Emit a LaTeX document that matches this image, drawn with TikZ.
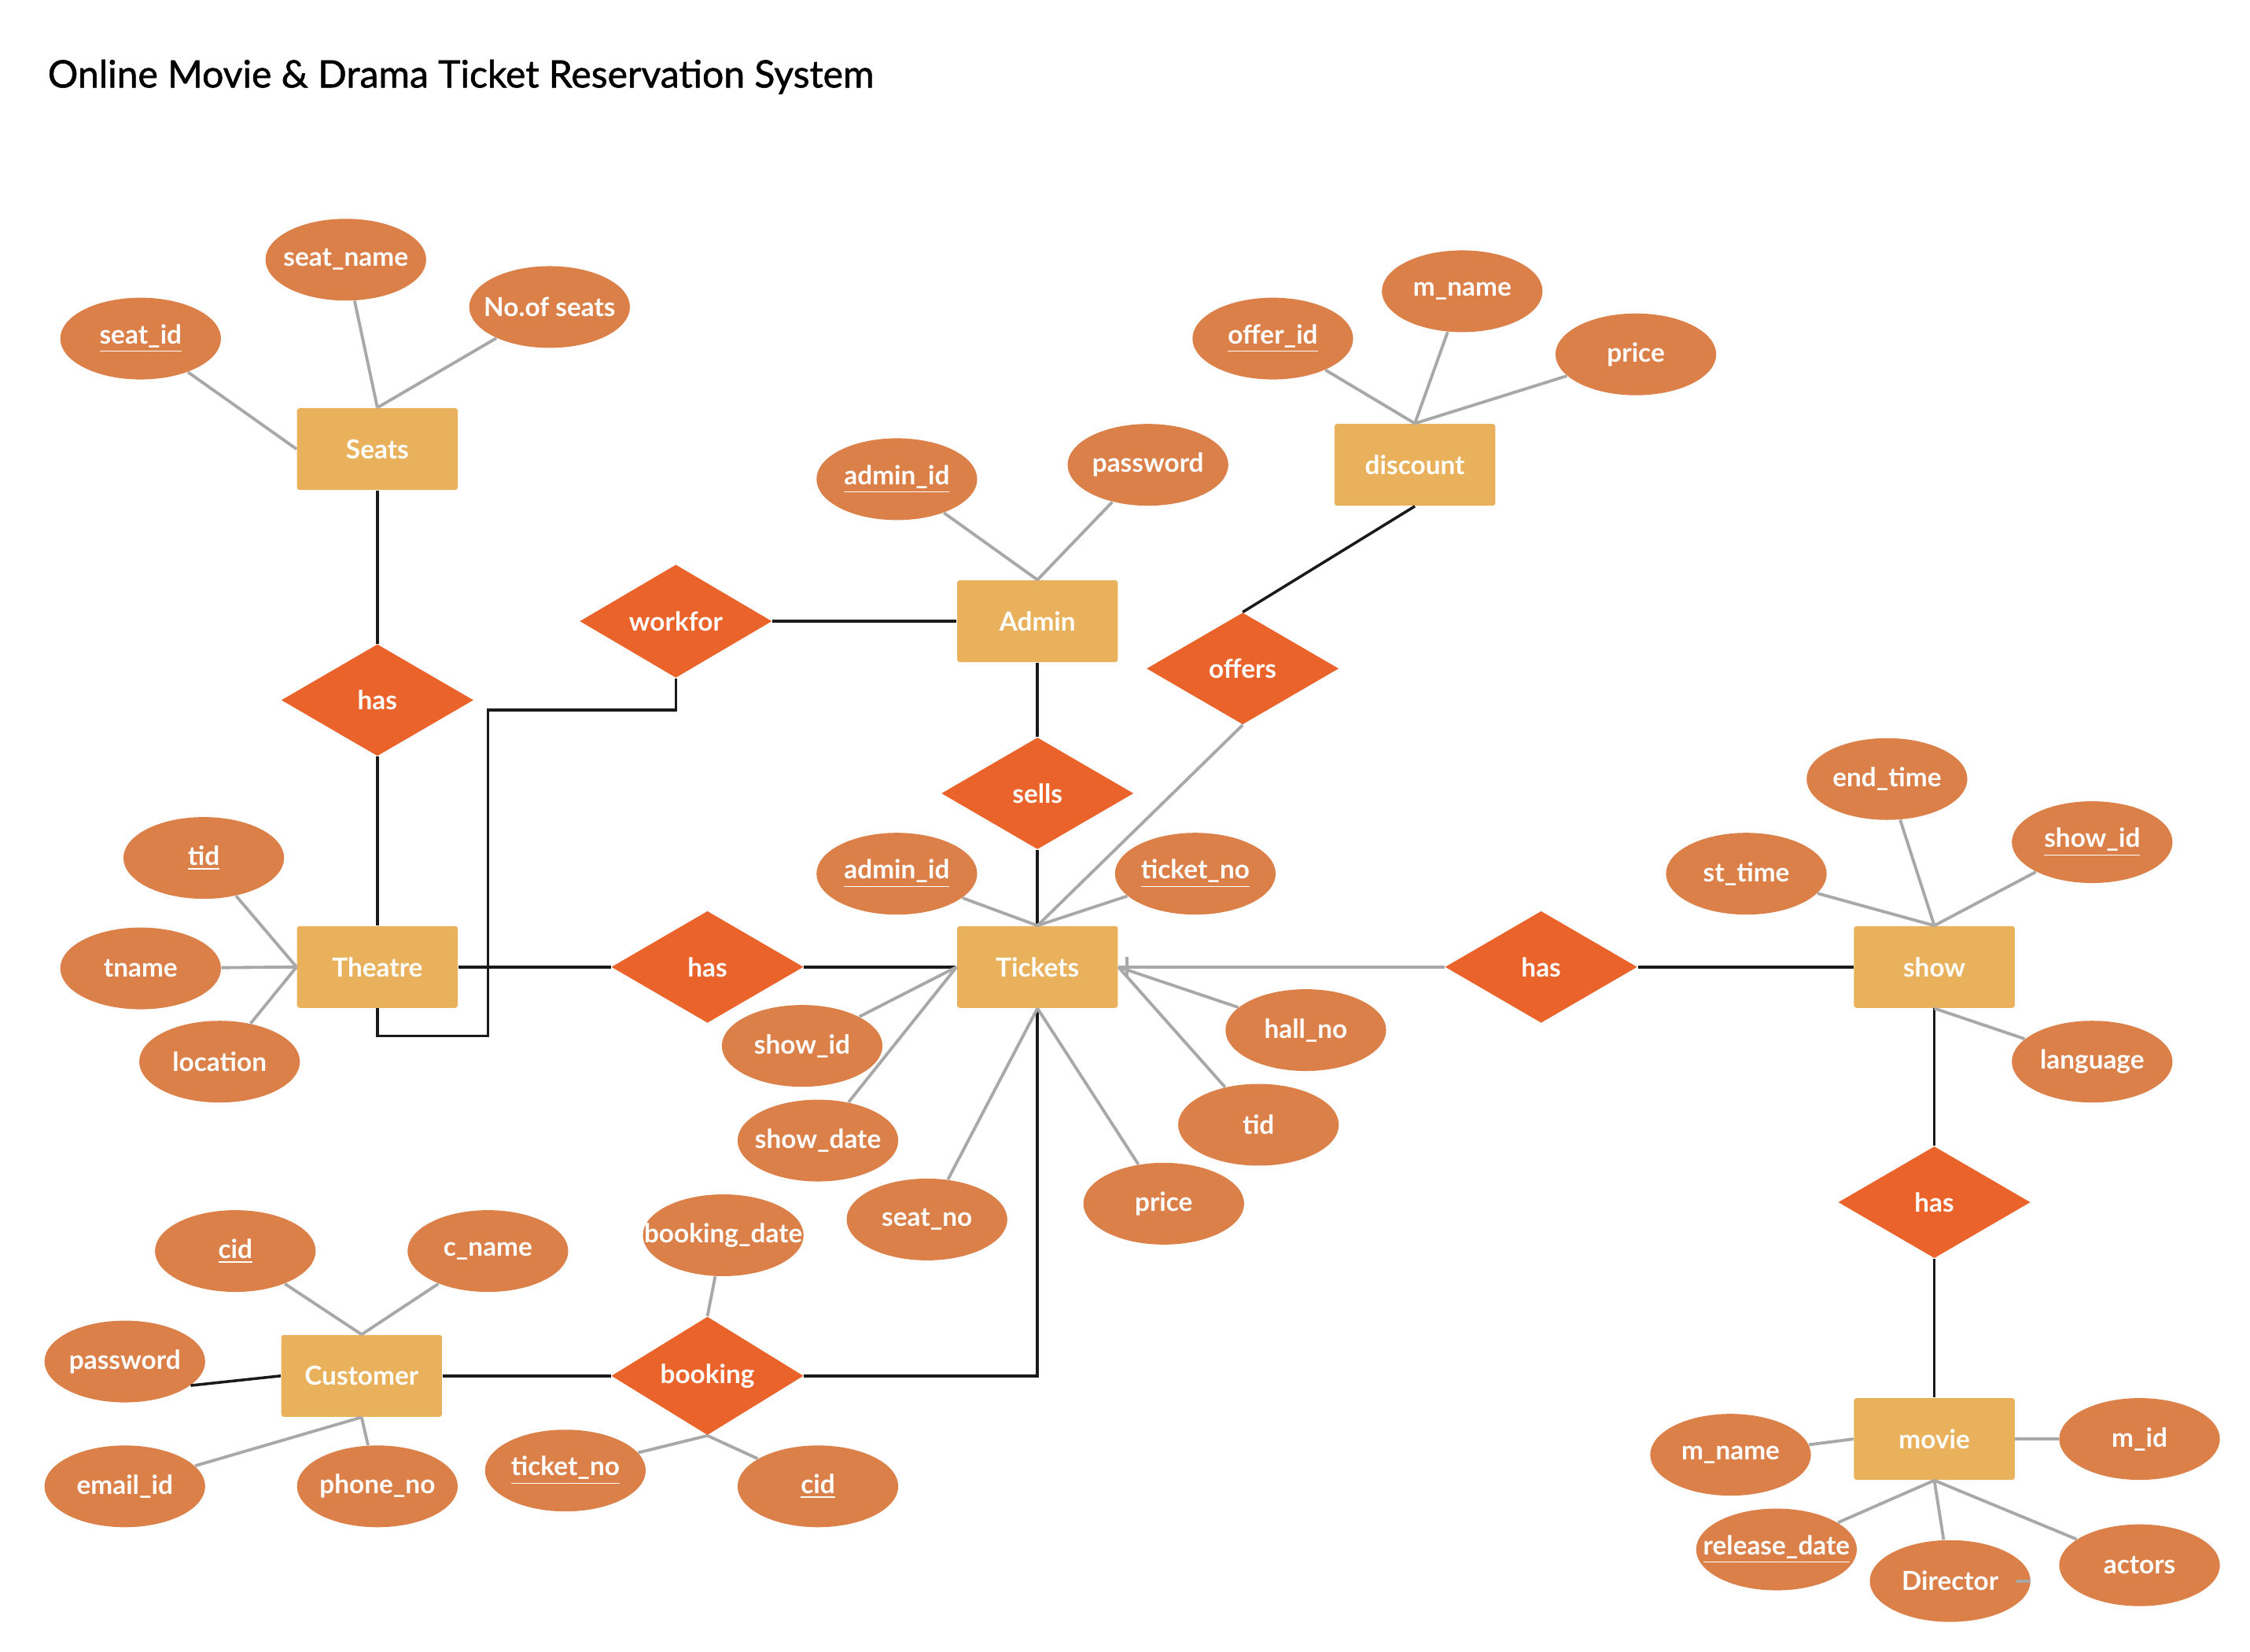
\documentclass[tikz,border=0pt]{standalone}
\usepackage{fontspec}
\setmainfont{Lato}
\newfontfamily\titlefont{Lato}[FakeBold=1.2]
\usetikzlibrary{shapes.geometric}

\begin{document}
\begin{tikzpicture}[x=0.02cm, y=-0.02cm,
    entity/.style={rectangle, fill=entityColour, rounded corners=1pt, minimum width=2.24cm, minimum height=1.14cm, inner sep=0pt, text=white, font=\fontsize{10.4}{12}\selectfont\bfseries},
    relation/.style={diamond, fill=relationColour, minimum width=2.68cm, minimum height=1.56cm, inner sep=0pt, text=white, font=\fontsize{10.4}{12}\selectfont\bfseries},
    attribute/.style={ellipse, fill=attributeColour, minimum width=2.24cm, minimum height=1.14cm, inner sep=0pt, text=white, font=\fontsize{10.4}{12}\selectfont\bfseries,
        execute at begin node={\hbox to 0pt\bgroup\hss}, execute at end node={\hss\egroup}},
    attrline/.style={draw=lineGrey, line width=1.2pt},
    relline/.style={draw=lineBlack, line width=1.1pt}]
    \definecolor{entityColour}{HTML}{E9B15C}
    \definecolor{relationColour}{HTML}{E9632A}
    \definecolor{attributeColour}{HTML}{DC804A}
    \definecolor{lineGrey}{HTML}{A8A8A8}
    \definecolor{lineBlack}{HTML}{1A1A1A}
    \def\key#1{\underline{#1}}

    \useasboundingbox (0,0) rectangle (1568,1151);

    % Title
    \node[anchor=base west, inner sep=0pt, font=\titlefont\fontsize{15}{18}\selectfont] (title) at (33,61) {Online Movie \& Drama Ticket Reservation System};

    % Entities
    \node[entity] (seats) at (263,313) {Seats};
    \node[entity] (admin) at (723,433) {Admin};
    \node[entity] (discount) at (986,324) {discount};
    \node[entity] (theatre) at (263,674) {Theatre};
    \node[entity] (tickets) at (723,674) {Tickets};
    \node[entity] (show) at (1348,674) {show};
    \node[entity] (customer) at (252,959) {Customer};
    \node[entity] (movie) at (1348,1003) {movie};

    % Relationships
    \node[relation] (hasSeat) at (263,488) {has};
    \node[relation] (workfor) at (471,433) {workfor};
    \node[relation] (offers) at (866,466) {offers};
    \node[relation] (sells) at (723,553) {sells};
    \node[relation] (hasTicket) at (493,674) {has};
    \node[relation] (hasShow) at (1074,674) {has};
    \node[relation] (hasMovie) at (1348,838) {has};
    \node[relation] (booking) at (493,959) {booking};

    % Attributes
    \node[attribute] (seatId) at (98,236) {\key{seat\_id}};
    \node[attribute] (seatName) at (241,181) {seat\_name};
    \node[attribute] (noSeats) at (383,214) {No.of seats};
    \node[attribute] (adminId) at (625,334) {\key{admin\_id}};
    \node[attribute] (adminPwd) at (800,324) {password};
    \node[attribute] (offerId) at (887,236) {\key{offer\_id}};
    \node[attribute] (discName) at (1019,203) {m\_name};
    \node[attribute] (discPrice) at (1140,247) {price};
    \node[attribute] (theatreTid) at (142,598) {\key{tid}};
    \node[attribute] (tname) at (98,675) {tname};
    \node[attribute] (location) at (153,740) {location};
    \node[attribute] (tAdminId) at (625,609) {\key{admin\_id}};
    \node[attribute] (ticketNo) at (833,609) {\key{ticket\_no}};
    \node[attribute] (tShowId) at (559,729) {show\_id};
    \node[attribute] (showDate) at (570,795) {show\_date};
    \node[attribute] (seatNo) at (646,850) {seat\_no};
    \node[attribute] (tPrice) at (811,839) {price};
    \node[attribute] (tTid) at (877,784) {tid};
    \node[attribute] (hallNo) at (910,718) {hall\_no};
    \node[attribute] (endTime) at (1315,543) {end\_time};
    \node[attribute] (showId) at (1458,587) {\key{show\_id}};
    \node[attribute] (stTime) at (1217,609) {st\_time};
    \node[attribute] (language) at (1458,740) {language};
    \node[attribute] (cid) at (164,872) {\key{cid}};
    \node[attribute] (cName) at (340,872) {c\_name};
    \node[attribute] (cPwd) at (87,949) {password};
    \node[attribute] (email) at (87,1036) {email\_id};
    \node[attribute] (phone) at (263,1036) {phone\_no};
    \node[attribute] (bookDate) at (504,861) {booking\_date};
    \node[attribute] (bTicketNo) at (394,1025) {\key{ticket\_no}};
    \node[attribute] (bCid) at (570,1036) {\key{cid}};
    \node[attribute] (mName) at (1206,1014) {m\_name};
    \node[attribute] (mId) at (1491,1003) {m\_id};
    \node[attribute] (releaseDate) at (1238,1080) {\key{release\_date}};
    \node[attribute] (director) at (1359,1102) {Director};
    \node[attribute] (actors) at (1491,1091) {actors};

    % Relationship lines
    \draw[relline] (seats) -- (hasSeat) -- (theatre);
    \draw[relline] (workfor) -- (admin);
    \draw[relline] (workfor.south) -- ++(0,22) -| (340,722) -| (theatre.south);
    \draw[relline] (admin) -- (sells) -- (tickets);
    \draw[relline] (discount.south) -- (offers.north);
    \draw[relline] (theatre) -- (hasTicket) -- (tickets);
    \draw[relline] (hasShow) -- (show);
    \draw[relline] (show) -- (hasMovie) -- (movie);
    \draw[relline] (customer) -- (booking);
    \draw[relline] (booking.east) -| (tickets.south);
    \draw[relline] (cPwd.-20) -- (customer.west);
    \draw[attrline] (offers.south) -- (tickets.north);
    \draw[attrline] (hasShow.west) -- (tickets.east);
    \draw[attrline] ([xshift=0.12cm]tickets.east) ++(0,-7) -- ++(0,14);

    % Attribute lines
    \foreach \a/\b in {seatId/seats.west, seatName/seats.north, noSeats/seats.north,
        adminId/admin.north, adminPwd/admin.north,
        offerId/discount.north, discName/discount.north, discPrice/discount.north,
        theatreTid/theatre.west, tname/theatre.west, location/theatre.west,
        tAdminId/tickets.north, ticketNo/tickets.north, tShowId/tickets.west, showDate/tickets.west,
        seatNo/tickets.south, tPrice/tickets.south, tTid/tickets.east, hallNo/tickets.east,
        endTime/show.north, showId/show.north, stTime/show.north, language/show.south,
        cid/customer.north, cName/customer.north, email/customer.south, phone/customer.south,
        bookDate/booking.north, bTicketNo/booking.south, bCid/booking.south,
        mName/movie.west, mId/movie.east, releaseDate/movie.south, director/movie.south, actors/movie.south}
        \draw[attrline] (\a) -- (\b);
    \draw[attrline] (director.east) -- ++(-10,0);

\end{tikzpicture}
\end{document}
